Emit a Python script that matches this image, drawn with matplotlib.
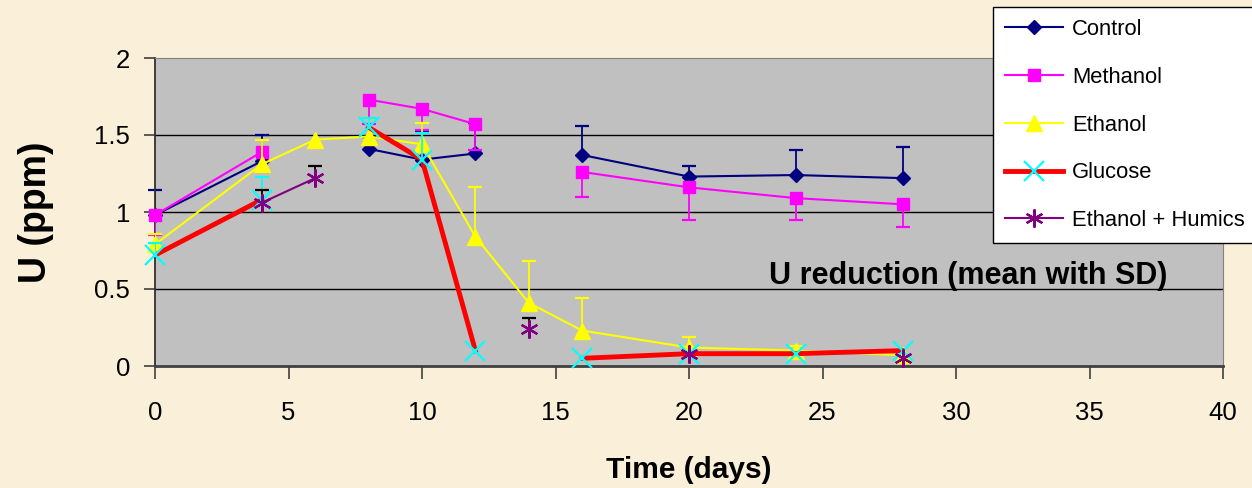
import numpy as np
import matplotlib
matplotlib.use("Agg")
import matplotlib.pyplot as plt
from matplotlib.lines import Line2D

nan = np.nan
days = [0, 4, 6, 8, 10, 12, 14, 16, 20, 24, 28]

control = [0.98, 1.33, nan, 1.41, 1.34, 1.38, nan, 1.37, 1.23, 1.24, 1.22]
control_sd = [0.16, 0.17, nan, 0.08, 0.18, 0.20, nan, 0.19, 0.07, 0.16, 0.20]      # plus

methanol = [0.98, 1.39, nan, 1.73, 1.67, 1.57, nan, 1.26, 1.16, 1.09, 1.05]
methanol_sd = [0.13, 0.13, nan, 0.16, 0.14, 0.17, nan, 0.16, 0.21, 0.14, 0.15]     # minus

ethanol = [0.79, 1.31, 1.47, 1.49, 1.44, 0.84, 0.41, 0.23, 0.12, 0.10, 0.07]
ethanol_sd = [0.07, 0.16, nan, 0.12, 0.14, 0.32, 0.27, 0.21, 0.07, 0.03, nan]      # plus

glucose = [0.72, 1.08, nan, 1.55, 1.34, 0.10, nan, 0.05, 0.08, 0.08, 0.10]
glucose_sd = [0.08, 0.15, nan, 0.06, 0.17, nan, nan, nan, nan, nan, nan]           # plus

humics = [nan, 1.06, 1.22, nan, nan, nan, 0.24, nan, 0.08, nan, 0.05]
humics_sd = [nan, 0.08, 0.08, nan, nan, nan, 0.07, nan, nan, nan, nan]             # plus

series_names = ["Control", "Methanol", "Ethanol", "Glucose", "Ethanol + Humics"]
x_ticks = [0, 5, 10, 15, 20, 25, 30, 35, 40]
y_ticks = [0, 0.5, 1, 1.5, 2]
y_tick_labels = ["0", "0.5", "1", "1.5", "2"]

plt.rcParams['font.family'] = ['Liberation Sans', 'DejaVu Sans']

W, H = 1252, 488
fig = plt.figure(figsize=(W / 100, H / 100), dpi=100)
fig.patch.set_facecolor('#FAF0DA')

L, R, T, B = 155, 1223, 58, 366
ax = fig.add_axes([L / W, 1 - B / H, (R - L) / W, (B - T) / H])
ax.set_facecolor('#C0C0C0')
ax.set_xlim(0, 40)
ax.set_ylim(0, 2)
ax.set_xticks(x_ticks)
ax.set_yticks(y_ticks)
ax.set_yticklabels(y_tick_labels)
ax.tick_params(axis='both', labelsize=18.5, colors='#404040', labelcolor='black')
ax.tick_params(axis='x', length=9, width=1.2, pad=16)
ax.tick_params(axis='y', length=8, width=1.2, pad=10)
for y in [0.5, 1.0, 1.5]:
    ax.axhline(y, color='black', lw=1.0, zorder=0.5)
ax.spines['top'].set_color('#808080')
ax.spines['right'].set_color('#808080')
ax.spines['left'].set_color('#303030')
ax.spines['bottom'].set_color('#404040')
ax.spines['bottom'].set_linewidth(2)
ax.spines['left'].set_linewidth(1.3)

x = np.array(days, dtype=float)


def err_bars(vals, sd, color, sign, z):
    v = np.array(vals, dtype=float)
    s = np.array(sd, dtype=float)
    m = ~np.isnan(v) & ~np.isnan(s)
    end = v + sign * s
    ax.vlines(x[m], v[m], end[m], colors=color, lw=1.3, zorder=z)
    ax.plot(x[m], end[m], linestyle='none', marker='_', markersize=10,
            markeredgewidth=1.6, color=color, zorder=z, clip_on=False)


# Control
ax.plot(x, control, color='#000080', lw=1.5, zorder=2)
err_bars(control, control_sd, '#000080', +1, 2.1)
ax.plot(x, control, linestyle='none', marker='D', markersize=7, color='#000080', zorder=2.2, clip_on=False)

# Methanol
ax.plot(x, methanol, color='#FF00FF', lw=1.5, zorder=3)
err_bars(methanol, methanol_sd, '#FF00FF', -1, 3.1)
ax.plot(x, methanol, linestyle='none', marker='s', markersize=9, color='#FF00FF', zorder=3.2, clip_on=False)

# Ethanol
ax.plot(x, ethanol, color='#FFFF00', lw=1.5, zorder=4)
err_bars(ethanol, ethanol_sd, '#FFFF00', +1, 4.1)
ax.plot(x, ethanol, linestyle='none', marker='^', markersize=11, color='#FFFF00', zorder=4.2, clip_on=False)

# Glucose
ax.plot(x, glucose, color='#FF0000', lw=3.5, zorder=5)
err_bars(glucose, glucose_sd, '#00FFFF', +1, 5.1)
ax.plot(x, glucose, linestyle='none', marker='x', markersize=14, markeredgewidth=1.6,
        color='#00FFFF', zorder=5.2, clip_on=False)

# Ethanol + Humics
ax.plot(x, humics, color='#800080', lw=1.5, zorder=6)
err_bars(humics, humics_sd, 'black', +1, 6.1)
ax.plot(x, humics, linestyle='none', marker=(6, 2, 0), markersize=13, markeredgewidth=1.6,
        color='#800080', zorder=6.2, clip_on=False)

ax.text(30.47, 0.585, "U reduction (mean with SD)", fontsize=22, fontweight='bold',
        ha='center', va='center', zorder=7)

ax.set_xlabel("Time (days)", fontsize=21.5, fontweight='bold')
ax.xaxis.label.set_va('center')
ax.xaxis.set_label_coords(0.5, -(470 - B) / (B - T))
ax.set_ylabel("U (ppm)", fontsize=27, fontweight='bold')
ax.yaxis.label.set_va('center')
ax.yaxis.set_label_coords((36 - L) / (R - L), 0.5)

handles = [
    Line2D([], [], color='#000080', lw=1.5, marker='D', markersize=7),
    Line2D([], [], color='#FF00FF', lw=1.5, marker='s', markersize=9),
    Line2D([], [], color='#FFFF00', lw=1.5, marker='^', markersize=11),
    Line2D([], [], color='#FF0000', lw=3.5, marker='x', markersize=14, markeredgewidth=1.6,
           markeredgecolor='#00FFFF'),
    Line2D([], [], color='#800080', lw=1.5, marker=(6, 2, 0), markersize=13, markeredgewidth=1.6),
]
leg = fig.legend(handles, series_names, loc='upper left',
                 bbox_to_anchor=(993 / W, 1 - 7 / H), bbox_transform=fig.transFigure,
                 fontsize=15.8, frameon=True, fancybox=False, shadow=False,
                 borderpad=0.55, labelspacing=1.22, handlelength=2.65, handletextpad=0.4,
                 borderaxespad=0.0)
leg.get_frame().set_edgecolor('black')
leg.get_frame().set_linewidth(1.0)
leg.get_frame().set_facecolor('white')
leg.get_frame().set_alpha(1.0)
leg.set_zorder(10)

fig.savefig("out.png", dpi=100, facecolor=fig.get_facecolor())
